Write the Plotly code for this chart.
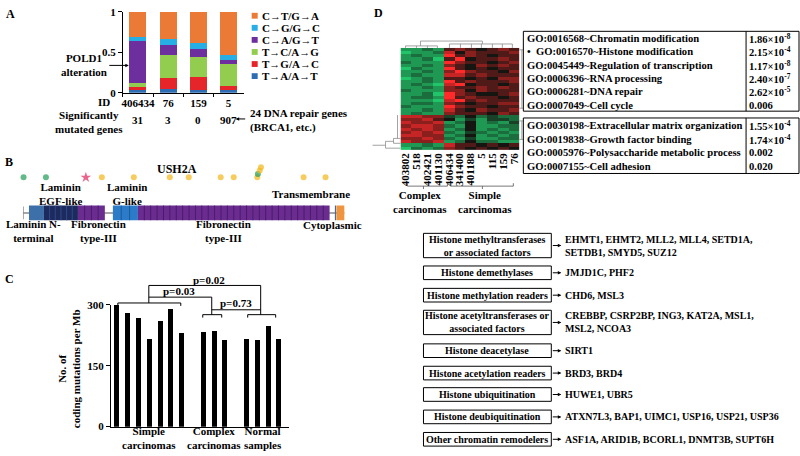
import plotly.graph_objects as go

W, H = 800, 456
FAM = "Liberation Serif, Times New Roman, serif"

# ---------------- data ----------------
# Panel A: mutation spectrum (fractions) per sample
a_samples = ["406434", "76", "159", "5"]
a_types = ["T→A/A→T", "T→G/A→C", "T→C/A→G", "C→A/G→T", "C→G/G→C", "C→T/G→A"]
a_t_a = [0.03, 0.04, 0.03, 0.03]
a_t_g = [0.04, 0.14, 0.16, 0.05]
a_t_c = [0.05, 0.29, 0.25, 0.27]
a_c_a = [0.52, 0.12, 0.10, 0.06]
a_c_g = [0.05, 0.07, 0.08, 0.06]
a_c_t = [0.31, 0.34, 0.38, 0.53]
a_sig_genes = ["31", "3", "0", "907"]

# Panel B: USH2A protein domains (aa) and mutations
b_protein_len = 5202
b_dom_start = [98, 340, 890, 1455, 1860, 5070]
b_dom_end = [340, 890, 1325, 1860, 4960, 5202]
b_dom_repeats = [1, 6, 4, 3, 30, 1]
b_tm_pos = 5055
b_mut_pos = [10, 372, 1018, 1276, 1793, 2375, 2682, 3199, 3409, 3790, 3800, 3830, 3850, 4539, 4894]
b_mut_class = ["g", "g", "s", "y", "y", "y", "y", "y", "y", "y", "g", "y", "y", "y", "y"]

# Panel C: coding mutations per Mb
c_groups = ["Simple<br>carcinomas", "Complex<br>carcinomas", "Normal<br>samples"]
c_simple = [299, 281, 269, 217, 261, 289, 230]
c_complex = [233, 235, 214]
c_normal = [217, 213, 249, 215]
c_pvals = ["p=0.02", "p=0.03", "p=0.73"]

# Panel D: heatmap (0 = green, 4 = black, 8 = red)
hm_cols = ["403802", "518", "402421", "401130", "406434", "341400", "401188", "5", "115", "159", "76"]
hm_rows = [
    "11215654565", "01127465556", "12118565455", "11205845565", "21118655456",
    "11216546565", "02118545455", "11216865546", "12117756555", "01215545466",
    "11218565556", "12107845545", "11216556565", "21116646555", "11208654456",
    "12218565545", "11107856555", "12216545566", "21118655455", "11217546556",
    "12116555465",
    "77663242322", "66754131332",
    "76671241213", "67762141122", "76761241212", "67672132121", "77661241212",
    "66762131122", "76671242211",
    "11217554545", "02126545454",
]
go_up_terms = ["GO:0016568~Chromatin modification",
               "•\u00a0\u00a0GO:0016570~Histone modification",
               "GO:0045449~Regulation of transcription",
               "GO:0006396~RNA processing",
               "GO:0006281~DNA repair",
               "GO:0007049~Cell cycle"]
go_up_p = ["1.86×10<sup>-8</sup>", "2.15×10<sup>-4</sup>", "1.17×10<sup>-8</sup>",
           "2.40×10<sup>-7</sup>", "2.62×10<sup>-5</sup>", "0.006"]
go_dn_terms = ["GO:0030198~Extracellular matrix organization",
               "GO:0019838~Growth factor binding",
               "GO:0005976~Polysaccharide metabolic process",
               "GO:0007155~Cell adhesion"]
go_dn_p = ["1.55×10<sup>-4</sup>", "1.74×10<sup>-4</sup>", "0.002", "0.020"]
hist_categories = ["Histone methyltransferases<br>or associated factors", "Histone demethylases",
                   "Histone methylation readers", "Histone acetyltransferases or<br>associated factors",
                   "Histone deacetylase", "Histone acetylation readers", "Histone ubiquitination",
                   "Histone deubiquitination", "Other chromatin remodelers"]
hist_genes = ["EHMT1, EHMT2, MLL2, MLL4, SETD1A,<br>SETDB1, SMYD5, SUZ12", "JMJD1C, PHF2", "CHD6, MSL3",
              "CREBBP, CSRP2BP, ING3, KAT2A, MSL1,<br>MSL2, NCOA3", "SIRT1", "BRD3, BRD4", "HUWE1, UBR5",
              "ATXN7L3, BAP1, UIMC1, USP16, USP21, USP36", "ASF1A, ARID1B, BCORL1, DNMT3B, SUPT6H"]

# ---------------- styles ----------------
a_colors = ["#2f6db3", "#e5252a", "#93cd4f", "#6e2f9e", "#27aee5", "#ea7a35"]
b_dom_colors = ["#3d6fa8", "#1c2a5e", "#6a2d8f", "#2b7bc8", "#6a2d8f", "#f0953f"]
b_stripe_colors = ["#3d6fa8", "#2f4a8a", "#4b1a6e", "#1a5a9a", "#4b1a6e", "#f0953f"]
b_mut_style = {"g": ("#1f9d55", "circle", 6), "y": ("#f2b619", "circle", 6), "s": ("#e0245e", "star", 8)}


def F(s, color="black"):
    return dict(family=FAM, size=s, color=color, weight="bold")


def X(p):
    return p / W


def Y(p):
    return 1 - p / H


shapes, anns = [], []


def seg(x0, y0, x1, y1, color="black", w=1):
    shapes.append(dict(type="line", xref="paper", yref="paper", x0=X(x0), y0=Y(y0), x1=X(x1), y1=Y(y1),
                       line=dict(color=color, width=w)))


def box(x0, y0, x1, y1, fill="rgba(0,0,0,0)", color="black", w=1):
    shapes.append(dict(type="rect", xref="paper", yref="paper", x0=X(x0), y0=Y(y1), x1=X(x1), y1=Y(y0),
                       line=dict(color=color, width=w), fillcolor=fill))


def txt(x, y, s, size=11, xa="center", ya="middle", align="center", angle=0, xref="paper"):
    anns.append(dict(x=X(x) if xref == "paper" else x, y=Y(y), xref=xref, yref="paper", text=s,
                     showarrow=False, font=F(size), xanchor=xa, yanchor=ya, align=align, textangle=angle))


def arrow(xh, y, xt):
    anns.append(dict(x=X(xh), y=Y(y), xref="paper", yref="paper", text="", showarrow=True,
                     ax=xt - xh, ay=0, arrowhead=2, arrowsize=0.7, arrowwidth=1, arrowcolor="black"))


fig = go.Figure()

# ---------------- Panel A ----------------
for name, vals, col in zip(a_types, [a_t_a, a_t_g, a_t_c, a_c_a, a_c_g, a_c_t], a_colors):
    fig.add_bar(x=a_samples, y=vals, name=name, marker=dict(color=col, line=dict(width=0)),
                xaxis="x", yaxis="y", showlegend=False)

for i, (name, col) in enumerate(reversed(list(zip(a_types, a_colors)))):
    yc = 10 + 12.4 * i
    box(251, yc - 3, 257, yc + 3, fill=col, color=col, w=0)
    txt(259, yc, name, 11, xa="left")

txt(3, 8, "A", 12, xa="left")
txt(103, 99, "ID", 11)
txt(88, 119, "Significantly<br>mutated genes", 11)
for i, g in enumerate(a_sig_genes):
    txt(i, 117, g, 11, xref="x")
txt(83, 61, "POLD1<br>alteration", 11)
arrow(128, 61, 107)
arrow(235, 116, 246)
txt(247, 118, "24 DNA repair genes<br>(BRCA1, etc.)", 11, xa="left", align="left")

# ---------------- Panel B ----------------
txt(2, 160, "B", 12, xa="left")
txt(176, 167, "USH2A", 12)
bshape = dict(xref="x4", yref="y4")
shapes.append(dict(type="line", x0=1, x1=b_protein_len, y0=9.5, y1=9.5, line=dict(color="#8a8a8a", width=1.5), **bshape))
shapes.append(dict(type="line", x0=1, x1=1, y0=3, y1=16, line=dict(color="#8a8a8a", width=1.5), **bshape))
for s, e, n, c, sc in zip(b_dom_start, b_dom_end, b_dom_repeats, b_dom_colors, b_stripe_colors):
    shapes.append(dict(type="rect", x0=s, x1=e, y0=2, y1=17, fillcolor=c, line=dict(width=0), **bshape))
    for k in range(1, n):
        xs = s + (e - s) * k / n
        shapes.append(dict(type="line", x0=xs, x1=xs, y0=2, y1=17, line=dict(color=sc, width=1), **bshape))
shapes.append(dict(type="line", x0=b_tm_pos, x1=b_tm_pos, y0=2, y1=17, line=dict(color="#4a6a9a", width=1.2), **bshape))

mut_y = []
for i, p in enumerate(b_mut_pos):
    k = sum(1 for q in b_mut_pos[:i] if abs(q - p) < 100)
    mut_y.append(46 + 3.5 * k)
fig.add_scatter(x=b_mut_pos, y=mut_y, mode="markers", xaxis="x4", yaxis="y4", showlegend=False,
                cliponaxis=False,
                marker=dict(color=[b_mut_style[c][0] for c in b_mut_class],
                            symbol=[b_mut_style[c][1] for c in b_mut_class],
                            size=[b_mut_style[c][2] for c in b_mut_class], line=dict(width=0)))

txt(60, 193, "Laminin<br>EGF-like", 11)
txt(126, 193, "Laminin<br>G-like", 11)
txt(310, 193, "Transmembrane", 11)
txt(33, 231, "Laminin N-<br>terminal", 11)
txt(98, 231, "Fibronectin<br>type-III", 11)
txt(223, 231, "Fibronectin<br>type-III", 11)
txt(332, 225, "Cytoplasmic", 11)

# ---------------- Panel C ----------------
txt(2, 280, "C", 12, xa="left")
c_all = [c_simple, c_complex, c_normal]
c_x, c_y, c_centers = [], [], []
pos = 0
for grp in c_all:
    xs = list(range(pos, pos + len(grp)))
    c_x += xs
    c_y += grp
    c_centers.append((xs[0] + xs[-1]) / 2)
    pos += len(grp) + 1
fig.add_bar(x=c_x, y=c_y, width=0.46, marker=dict(color="black", line=dict(width=0)),
            xaxis="x2", yaxis="y2", showlegend=False)
for cx, lab in zip(c_centers, c_groups):
    txt(cx, 444, lab, 11, xref="x2")
txt(68, 372, "No. of<br>coding mutations per Mb", 11, angle=-90)

# significance brackets
seg(148, 287, 260, 287)
seg(148, 299, 211, 299)
seg(117, 305, 180, 305)
seg(117, 305, 117, 308)
seg(180, 305, 180, 308)
seg(211, 312, 260, 312)
seg(202, 317, 221, 317)
seg(202, 317, 202, 320)
seg(221, 317, 221, 320)
seg(247, 317, 275, 317)
seg(247, 317, 247, 320)
seg(275, 317, 275, 320)
seg(148, 287, 148, 305)
seg(211, 299, 211, 317)
seg(260, 287, 260, 317)
txt(208, 281, c_pvals[0], 11)
txt(178, 293, c_pvals[1], 11)
txt(235, 305, c_pvals[2], 11)

# ---------------- Panel D ----------------
txt(371, 7, "D", 12, xa="left")
z = [[int(ch) for ch in row] for row in hm_rows]
fig.add_heatmap(z=z, x=hm_cols, xaxis="x3", yaxis="y3", zmin=0, zmax=8, showscale=False,
                colorscale=[[0, "#22c46a"], [0.5, "#151512"], [1, "#ff2a2a"]], hoverinfo="skip")

# dendrograms (decorative)
dc = "#8c8c8c"
seg(420, 36, 482, 36, dc, 0.8)
seg(420, 36, 420, 41, dc, 0.8)
seg(482, 36, 482, 39, dc, 0.8)
seg(405, 41, 437, 41, dc, 0.8)
for xx in [405, 416, 427, 437]:
    seg(xx, 41, xx, 43, dc, 0.8)
seg(449, 39, 512, 39, dc, 0.8)
for xx in [449, 460, 471, 481, 492, 502, 512]:
    seg(xx, 39, xx, 43, dc, 0.8)
seg(372, 143, 385, 143, dc, 0.8)
seg(385, 139, 385, 146, dc, 0.8)
seg(385, 139, 393, 139, dc, 0.8)
seg(385, 146, 400, 146, dc, 0.8)
seg(393, 136, 393, 141, dc, 0.8)
seg(393, 136, 400, 136, dc, 0.8)
seg(393, 141, 400, 141, dc, 0.8)
seg(397, 112, 397, 136, dc, 0.8)
# connectors to GO tables
seg(521.5, 45, 521.5, 105, dc, 0.8)
seg(519, 45, 523, 45, dc, 0.8)
seg(519, 105, 523, 105, dc, 0.8)
seg(521.5, 118, 521.5, 137, dc, 0.8)
seg(519, 118, 523, 118, dc, 0.8)
seg(519, 137, 523, 137, dc, 0.8)

# brackets under heatmap
seg(407, 185, 447, 185, "#555", 0.8)
seg(407, 185, 407, 182, "#555", 0.8)
seg(447, 185, 447, 182, "#555", 0.8)
seg(423, 185, 423, 188, "#555", 0.8)
seg(450, 185, 513, 185, "#555", 0.8)
seg(450, 185, 450, 182, "#555", 0.8)
seg(513, 185, 513, 182, "#555", 0.8)
seg(482, 185, 482, 188, "#555", 0.8)
txt(420, 201, "Complex<br>carcinomas", 11)
txt(485, 201, "Simple<br>carcinomas", 11)

# GO tables
box(523, 26, 799, 108)
seg(746, 26, 746, 108)
for i, (t, p) in enumerate(zip(go_up_terms, go_up_p)):
    yy = 33 + 13.8 * i
    txt(525, yy, t, 10.6, xa="left")
    txt(747, yy, p, 10.6, xa="left")
box(523, 115, 799, 172)
seg(746, 115, 746, 172)
for i, (t, p) in enumerate(zip(go_dn_terms, go_dn_p)):
    yy = 123 + 13.8 * i
    txt(525, yy, t, 10.6, xa="left")
    txt(747, yy, p, 10.6, xa="left")

# histone categories
hist_y = [246, 274, 297, 325, 354, 377, 399, 422, 445]
for cat, genes, yc in zip(hist_categories, hist_genes, hist_y):
    half = 12.5 if "<br>" in cat else 7
    box(423, yc - half, 551, yc + half)
    txt(487, yc, cat, 10)
    arrow(561, yc, 551)
    txt(563, yc, genes, 10, xa="left", align="left")

# ---------------- layout ----------------
ax_common = dict(showgrid=False, zeroline=False)
fig.update_layout(
    width=W, height=H, margin=dict(l=0, r=0, t=0, b=0),
    paper_bgcolor="white", plot_bgcolor="white",
    font=F(11), barmode="stack", bargap=0.44,
    showlegend=False,
    xaxis=dict(domain=[X(122), X(243)], type="category", anchor="y", showline=True, linecolor="black",
               linewidth=1, ticks="outside", tickson="boundaries", ticklen=3, tickcolor="black",
               tickangle=0, tickfont=F(11), **ax_common),
    yaxis=dict(domain=[Y(89), Y(6)], range=[0, 1], anchor="x", tickvals=[0, 0.5, 1], ticktext=["0", "0.5", "1"],
               ticks="outside", ticklen=4, tickcolor="black", showline=True, linecolor="black", linewidth=1,
               tickfont=F(11), **ax_common),
    xaxis2=dict(domain=[X(110), X(288)], range=[-0.556, 15.9], anchor="y2", showline=True, linecolor="black",
                linewidth=1, showticklabels=False, ticks="", **ax_common),
    yaxis2=dict(domain=[Y(432), Y(307)], range=[0, 300], anchor="x2", tickvals=[0, 150, 300], ticks="outside",
                ticklen=4, tickcolor="black", showline=True, linecolor="black", linewidth=1, tickfont=F(11),
                **ax_common),
    xaxis3=dict(domain=[X(400), X(519)], type="category", anchor="y3", tickangle=-90, ticks="",
                tickmode="linear", dtick=1, tick0=0,
                showline=False, tickfont=F(11), **ax_common),
    yaxis3=dict(domain=[Y(148), Y(43)], anchor="x3", autorange="reversed", visible=False, **ax_common),
    xaxis4=dict(domain=[X(22), X(344)], range=[1, b_protein_len], anchor="y4", visible=False, **ax_common),
    yaxis4=dict(domain=[Y(222), Y(165)], range=[0, 57], anchor="x4", visible=False, **ax_common),
    shapes=shapes, annotations=anns,
)

fig.write_html("out.html", config={"displayModeBar": False, "staticPlot": True},
               post_script="document.body.style.margin='0';document.body.style.overflow='hidden';")
